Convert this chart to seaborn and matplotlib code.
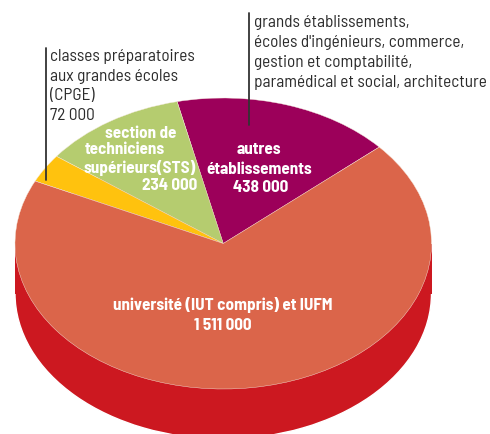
import matplotlib
matplotlib.use('Agg')
import matplotlib.pyplot as plt
import matplotlib.patches as mpatches
import seaborn as sns

# slices, counter-clockwise from the right edge of "autres"
categories = ['autres établissements', 'section de techniciens supérieurs (STS)',
              'classes préparatoires (CPGE)', 'université (IUT compris) et IUFM']
effectifs = [438000, 234000, 72000, 1511000]
# angular share of each slice as read on the drawing (degrees)
parts_lues = [61.3, 40.4, 11.4, 246.9]
couleurs = ['#9C005A', '#B5CC6F', '#FFC20E', '#DB654A']
couleur_tranche = '#CC1820'

notes_cpge = ['classes préparatoires', 'aux grandes écoles', '(CPGE)', '72 000']
notes_autres = ['grands établissements,', "écoles d'ingénieurs, commerce,",
                'gestion et comptabilité,', 'paramédical et social, architecture']
lab_sts = ['section de', 'techniciens', 'supérieurs(STS)', '234 000']
lab_autres = ['autres', 'établissements', '438 000']
lab_univ = ['université (IUT compris) et IUFM', '1 511 000']

W, H = 490, 434
CX, CY, RX, RY = 223.25, 243.5, 208.25, 145.5
DEPTH = 50


def to_x(px):
    return (px - CX) / RX


def to_y(py):
    return (CY - py) / RY


sns.set_theme(style='white')
plt.rcParams['font.family'] = ['Barlow Semi Condensed', 'Liberation Sans', 'DejaVu Sans']

fig = plt.figure(figsize=(W / 100, H / 100), dpi=100)
ax = fig.add_axes([0, 0, 1, 1])

# side of the cylinder, then the top face
d = DEPTH / RY
ax.pie([1], colors=[couleur_tranche], center=(0, -d), radius=1)
ax.add_patch(mpatches.Rectangle((-1, -d), 2, d, color=couleur_tranche, lw=0))
ax.pie(parts_lues, colors=sns.color_palette(couleurs), startangle=41.5, counterclock=True,
       radius=1, wedgeprops={'edgecolor': '#F4E9DC', 'linewidth': 0.3})

ax.set_aspect('auto')
ax.set_xlim(to_x(0), to_x(W))
ax.set_ylim(to_y(H), to_y(0))
ax.axis('off')

# leader lines
ax.plot([to_x(46), to_x(46)], [to_y(48), to_y(180)], color='#333333', lw=1.3)
ax.plot([to_x(249), to_x(249)], [to_y(13), to_y(125)], color='#333333', lw=1.3)

for txt, py in zip(notes_cpge, [56, 76, 96, 116]):
    ax.text(to_x(50), to_y(py), txt, fontsize=12.4, color='#2b2b2b', va='center', ha='left')
for txt, py in zip(notes_autres, [22, 42, 62, 82]):
    ax.text(to_x(254), to_y(py), txt, fontsize=12.4, color='#2b2b2b', va='center', ha='left')

for txt, px, py in zip(lab_sts, [141, 125, 140, 170], [133, 150, 168, 186]):
    ax.text(to_x(px), to_y(py), txt, fontsize=12.3, fontweight='bold', color='white',
            va='center', ha='center')
for txt, px, py in zip(lab_autres, [259, 259, 261], [149, 169, 188]):
    ax.text(to_x(px), to_y(py), txt, fontsize=12.3, fontweight='bold', color='white',
            va='center', ha='center')
for txt, px, py in zip(lab_univ, [223, 223], [305, 325]):
    ax.text(to_x(px), to_y(py), txt, fontsize=12.3, fontweight='bold', color='white',
            va='center', ha='center')

fig.savefig('out.png', dpi=100)
